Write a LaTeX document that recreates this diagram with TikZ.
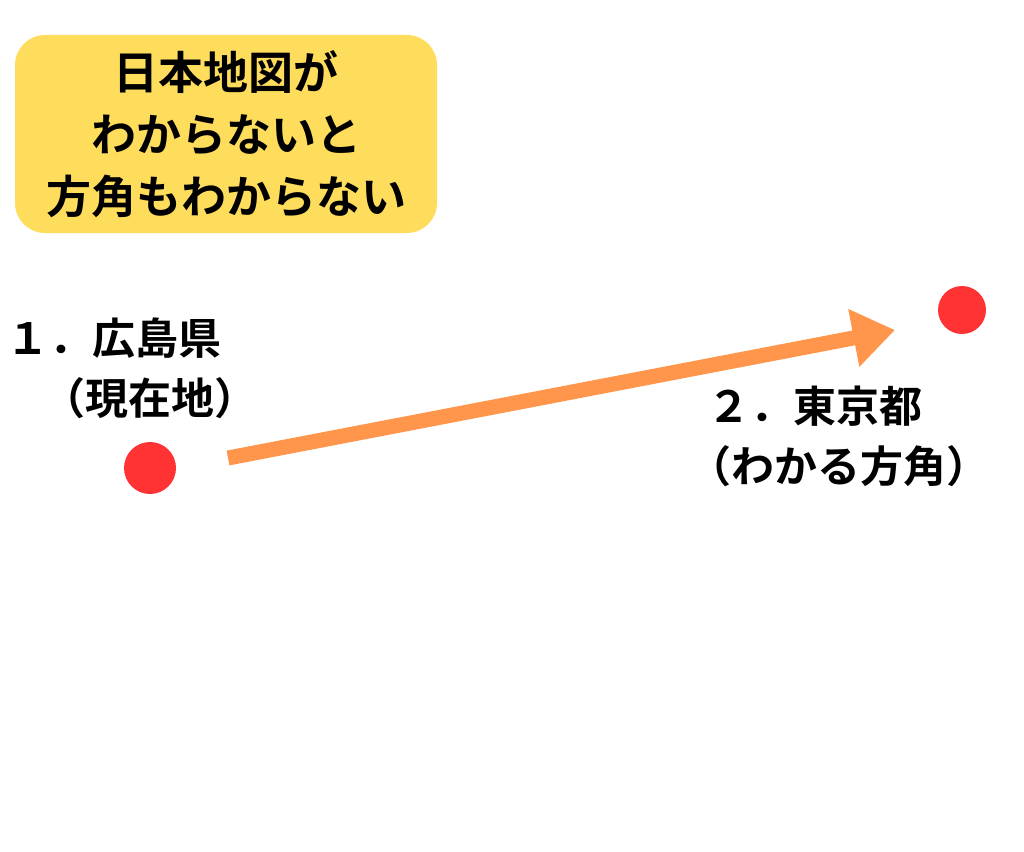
\documentclass[tikz,border=0pt]{standalone}
\usepackage{fontspec}
\newfontfamily\cjk{Noto Sans CJK JP Bold}
\usetikzlibrary{arrows.meta}
\definecolor{boxyellow}{RGB}{254,220,92}
\definecolor{dotred}{RGB}{255,51,51}
\definecolor{arroworange}{RGB}{255,150,75}
\tikzstyle{title} = [rectangle, fill=boxyellow, rounded corners=30pt,
    minimum width=422pt, minimum height=198pt, align=center,
    font=\cjk\fontsize{45}{62}\selectfont]
\tikzstyle{label} = [align=left, anchor=west, inner sep=0pt, font=\cjk\fontsize{43}{60}\selectfont]
\tikzstyle{spot} = [circle, fill=dotred, inner sep=0pt]
\tikzstyle{line} = [draw=arroworange, line width=15pt, -{Triangle[length=42pt,width=56pt]}]

\begin{document}
\begin{tikzpicture}[x=1pt, y=-1pt]
    \useasboundingbox (0,0) rectangle (1024,851);
    % Place nodes
    \node [title] (head) at (226,134) {日本地図が\\わからないと\\方角もわからない};
    \node [spot, minimum size=52pt] (here) at (150,468) {};
    \node [spot, minimum size=48pt] (goal) at (962,310) {};
    \node [label] (hereText) at (6,368) {１．広島県\\\hspace{0.85em}（現在地）};
    \node [label] (goalText) at (688,436) {\hspace{0.45em}２．東京都\\（わかる方角）};
    \coordinate (start) at (228,458);
    \coordinate (tip) at (895,330);
    % Draw edges
    \path [line] (start) -- (tip);
\end{tikzpicture}
\end{document}
